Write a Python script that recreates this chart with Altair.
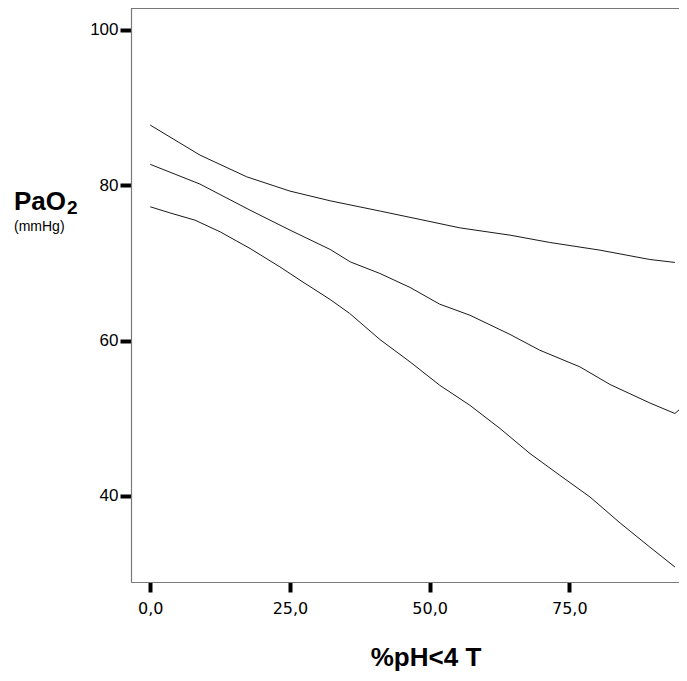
import altair as alt
import pandas as pd

# Curves (x = %pH<4 T, y = PaO2 mmHg)
upper_x = [0, 8.9, 17.25, 25.0, 32.2, 41.2, 48.3, 55.4, 64.4, 71.5, 80.5, 89.4, 93.9]
upper_y = [87.72, 83.86, 81.07, 79.23, 77.98, 76.65, 75.58, 74.50, 73.56, 72.62, 71.63, 70.43, 70.05]

mid_x = [0, 8.9, 17.85, 25.0, 32.2, 35.8, 41.1, 46.5, 51.8, 57.2, 64.4, 69.7, 76.9, 82.3, 89.4, 93.9, 96.06]
mid_y = [82.67, 80.13, 76.78, 74.21, 71.72, 70.12, 68.63, 66.83, 64.68, 63.26, 60.78, 58.76, 56.61, 54.34, 51.97, 50.61, 51.97]

low_x = [0, 3.5, 8.0, 12.5, 17.85, 23.2, 26.8, 32.2, 35.7, 41.1, 46.5, 51.8, 57.2, 62.6, 67.96, 73.3, 78.7, 84.1, 89.4, 93.9]
low_y = [77.21, 76.43, 75.49, 73.99, 71.85, 69.48, 67.77, 65.28, 63.48, 60.13, 57.25, 54.25, 51.67, 48.68, 45.46, 42.66, 39.87, 36.52, 33.43, 30.86]

x_ticks = [0, 25, 50, 75]
y_ticks = [40, 60, 80, 100]

rows = []
for name, xs, ys in [("upper", upper_x, upper_y), ("fit", mid_x, mid_y), ("lower", low_x, low_y)]:
    for i, (a, b) in enumerate(zip(xs, ys)):
        rows.append({"series": name, "order": i, "x": a, "y": b})
df = pd.DataFrame(rows)

W, H = 548, 574

lines = alt.Chart(df).mark_line(color="#1a1a1a", strokeWidth=1, clip=True).encode(
    x=alt.X("x:Q", scale=alt.Scale(domain=[-3.45, 94.63], nice=False, zero=False),
            axis=alt.Axis(values=x_ticks, title=None, grid=False,
                          labelExpr="replace(format(datum.value, '.1f'), '.', ',')",
                          labelFont="DejaVu Sans", labelFontSize=16, labelColor="#000",
                          labelPadding=8, tickSize=10, tickWidth=4, tickColor="#000",
                          domainColor="#7a7a7a", domainWidth=1.2)),
    y=alt.Y("y:Q", scale=alt.Scale(domain=[28.93, 102.79], nice=False, zero=False),
            axis=alt.Axis(values=y_ticks, title=None, grid=False, format="d",
                          labelFont="Liberation Sans", labelFontSize=17, labelColor="#000",
                          labelPadding=2, tickSize=11, tickWidth=4, tickColor="#000",
                          domainColor="#7a7a7a", domainWidth=1.2)),
    detail="series:N",
    order="order:Q",
)

one = pd.DataFrame({"k": [0]})

top_rule = alt.Chart(one).mark_rule(color="#555555", strokeWidth=1.5).encode(
    x=alt.value(0), x2=alt.value(W), y=alt.value(0)
)

ytitle = alt.Chart(one).mark_text(
    text="PaO", font="Liberation Sans", fontWeight="bold", fontSize=26,
    align="left", baseline="alphabetic", color="#000"
).encode(x=alt.value(-117), y=alt.value(202))

ysub = alt.Chart(one).mark_text(
    text="2", font="Liberation Sans", fontWeight="bold", fontSize=19,
    align="left", baseline="alphabetic", color="#000"
).encode(x=alt.value(-64), y=alt.value(205.5))

yunit = alt.Chart(one).mark_text(
    text="(mmHg)", font="Liberation Sans", fontSize=14,
    align="left", baseline="alphabetic", color="#000"
).encode(x=alt.value(-117), y=alt.value(222.5))

xtitle = alt.Chart(one).mark_text(
    text="%pH<4 T", font="Liberation Sans", fontWeight="bold", fontSize=26,
    align="center", baseline="alphabetic", color="#000"
).encode(x=alt.value(295), y=alt.value(658))

chart = alt.layer(lines, top_rule, ytitle, ysub, yunit, xtitle).properties(
    width=W, height=H,
    padding={"left": 123, "top": 0, "right": 0, "bottom": 91},
    autosize=alt.AutoSizeParams(type="none"),
).configure_view(stroke=None).configure(background="white")

chart.save("out.html", embed_options={"renderer": "svg", "actions": False})
